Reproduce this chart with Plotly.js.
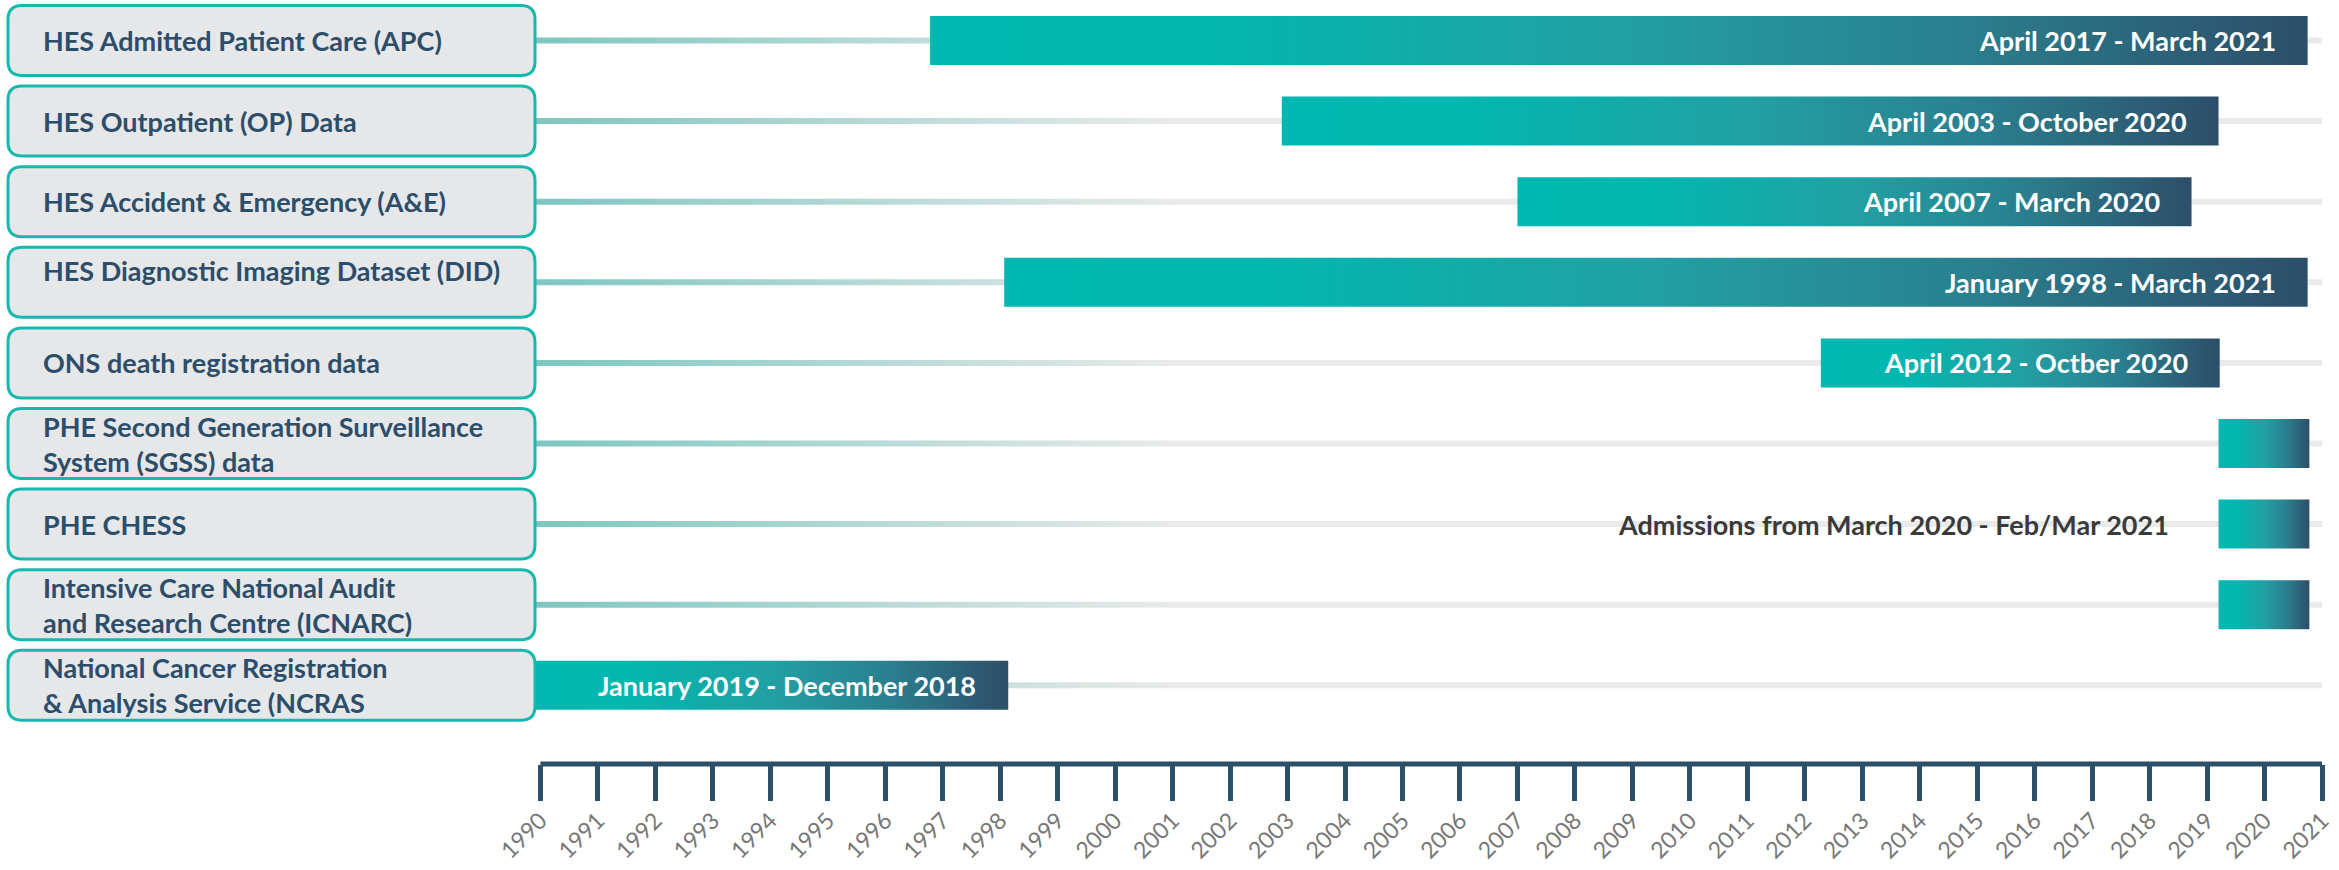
<!DOCTYPE html>
<html><head><meta charset="utf-8">
<script src="https://cdn.plot.ly/plotly-3.0.1.min.js"></script>
<style>html,body{margin:0;padding:0;background:#fff;}#chart{width:2339px;height:870px;}</style>
</head><body><div id="chart"></div>
<script>
// ---- data ----
const datasets = [
  "HES Admitted Patient Care (APC)",
  "HES Outpatient (OP) Data",
  "HES Accident & Emergency (A&E)",
  "HES Diagnostic Imaging Dataset (DID)",
  "ONS death registration data",
  "PHE Second Generation Surveillance<br>System (SGSS) data",
  "PHE CHESS",
  "Intensive Care National Audit<br>and Research Centre (ICNARC)",
  "National Cancer Registration<br>& Analysis Service (NCRAS"
];
const startYear = [1996.78, 2002.9, 2007.0, 1998.07, 2012.28, 2019.2, 2019.2, 2019.2, 1989.9];
const endYear   = [2020.75, 2019.2, 2018.73, 2020.75, 2019.22, 2020.78, 2020.78, 2020.78, 1998.14];
const periodLabels = [
  "April 2017 - March 2021",
  "April 2003 - October 2020",
  "April 2007 - March 2020",
  "January 1998 - March 2021",
  "April 2012 - Octber 2020",
  "",
  "",
  "",
  "January 2019 - December 2018"
];
const outsideLabels = ["", "", "", "", "", "", "Admissions from March 2020 - Feb/Mar 2021", "", ""];
const yearTicks = [1990,1991,1992,1993,1994,1995,1996,1997,1998,1999,2000,2001,2002,2003,2004,2005,
                   2006,2007,2008,2009,2010,2011,2012,2013,2014,2015,2016,2017,2018,2019,2020,2021];
const yearLabels = yearTicks.map(String);

// ---- geometry / style ----
const W = 2339, H = 870, ML = 528, MR = 17, MT = 0, MB = 106;
const plotW = W - ML - MR, plotH = H - MT - MB;
const rowPx = 80.6, pxPerYear = 57.47;
const xMax = yearTicks[yearTicks.length - 1];
const xMin = xMax - plotW / pxPerYear;
const yTop = -40.5 / rowPx, yBottom = yTop + plotH / rowPx;
const barHalf = 24.5 / rowPx, lineHalf = 3 / rowPx;
const FONT = "Lato, 'Open Sans', sans-serif";
const barScale = [[0, '#00b8b1'], [0.2, '#02b7b0'], [0.5, '#22a0a3'], [0.75, '#2a7f8e'], [1, '#2d4e69']];
const lineScale = [[0, '#7cc6bf'], [0.36, '#e9eaea'], [1, '#e9eaea']];
const paperX = px => (px - ML) / plotW;

const traces = [];
function rect(x0, x1, y, h, scale) {
  return {
    type: 'scatter', mode: 'lines',
    x: [x0, x1, x1, x0, x0],
    y: [y - h, y - h, y + h, y + h, y - h],
    fill: 'toself',
    fillgradient: {type: 'horizontal', colorscale: scale},
    line: {width: 0, color: 'rgba(0,0,0,0)'},
    hoverinfo: 'skip', showlegend: false
  };
}
datasets.forEach((d, i) => traces.push(rect(xMin, xMax, i, lineHalf, lineScale)));
datasets.forEach((d, i) => traces.push(rect(startYear[i], endYear[i], i, barHalf, barScale)));

const shapes = [];
const annotations = [];
// axis line from first to last tick
shapes.push({type: 'line', xref: 'x', yref: 'paper', x0: yearTicks[0], x1: xMax, y0: 0, y1: 0,
             line: {color: '#2d5069', width: 5}, layer: 'above'});

// label boxes
const bx0 = paperX(8), bx1 = paperX(535), rx = 14 / plotW, ry = 14 / rowPx, bh = 35 / rowPx;
datasets.forEach((d, i) => {
  const y0 = i - bh, y1 = i + bh;
  const p = `M ${bx0 + rx},${y0} L ${bx1 - rx},${y0} Q ${bx1},${y0} ${bx1},${y0 + ry} ` +
            `L ${bx1},${y1 - ry} Q ${bx1},${y1} ${bx1 - rx},${y1} L ${bx0 + rx},${y1} ` +
            `Q ${bx0},${y1} ${bx0},${y1 - ry} L ${bx0},${y0 + ry} Q ${bx0},${y0} ${bx0 + rx},${y0} Z`;
  shapes.push({type: 'path', xref: 'paper', yref: 'y', path: p, fillcolor: '#e5e7e9',
               line: {color: '#17b8ad', width: 3}, layer: 'above'});
  annotations.push({xref: 'paper', yref: 'y', x: paperX(41), y: i, xanchor: 'left', yanchor: 'middle',
                    align: 'left', text: d, showarrow: false, yshift: (i === 3 ? 12 : 0),
                    font: {family: FONT, size: 27, color: '#2c4e6a', weight: 700}});
  if (periodLabels[i]) {
    annotations.push({xref: 'x', yref: 'y', x: endYear[i], y: i, xanchor: 'right', yanchor: 'middle',
                      xshift: -30, text: periodLabels[i], showarrow: false,
                      font: {family: FONT, size: 27, color: '#ffffff', weight: 700}});
  }
  if (outsideLabels[i]) {
    annotations.push({xref: 'x', yref: 'y', x: startYear[i], y: i, xanchor: 'right', yanchor: 'middle',
                      xshift: -48, text: outsideLabels[i], showarrow: false,
                      font: {family: FONT, size: 27, color: '#3a3a3a', weight: 700}});
  }
});

const layout = {
  width: W, height: H,
  margin: {l: ML, r: MR, t: MT, b: MB, pad: 0},
  paper_bgcolor: '#ffffff', plot_bgcolor: 'rgba(0,0,0,0)',
  showlegend: false,
  xaxis: {range: [xMin, xMax], tickmode: 'array', tickvals: yearTicks, ticktext: yearLabels,
          ticks: 'outside', ticklen: 36, tickwidth: 5, tickcolor: '#2d5069',
          tickangle: -45, tickfont: {family: FONT, size: 23, color: '#777777'},
          ticklabelstandoff: -3,
          showline: false, showgrid: false, zeroline: false, fixedrange: true},
  yaxis: {range: [yBottom, yTop], showticklabels: false, showgrid: false, zeroline: false,
          showline: false, ticks: '', fixedrange: true},
  shapes: shapes, annotations: annotations
};
Plotly.newPlot('chart', traces, layout, {displayModeBar: false, staticPlot: true});
</script></body></html>
